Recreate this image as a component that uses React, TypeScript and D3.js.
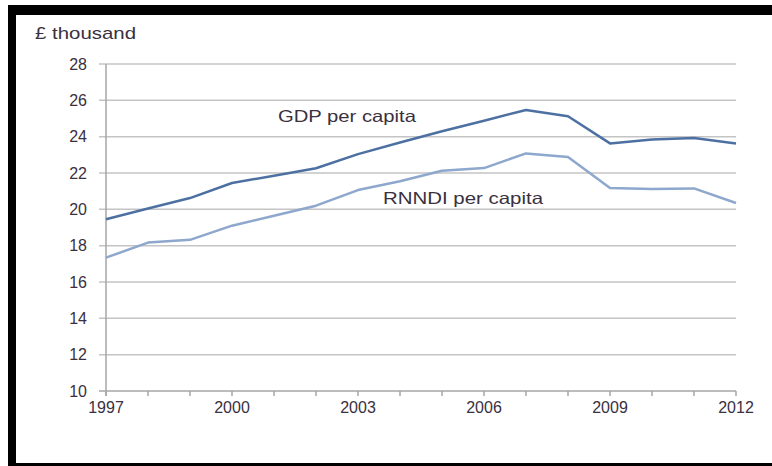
import React from "react";
import * as d3 from "d3";

const years = [1997, 1998, 1999, 2000, 2001, 2002, 2003, 2004, 2005, 2006, 2007, 2008, 2009, 2010, 2011, 2012];
const gdpPerCapita = [19.45, 20.05, 20.62, 21.45, 21.85, 22.26, 23.04, 23.68, 24.3, 24.88, 25.47, 25.12, 23.63, 23.85, 23.93, 23.63];
const rnndiPerCapita = [17.34, 18.17, 18.32, 19.1, 19.65, 20.2, 21.06, 21.55, 22.12, 22.27, 23.08, 22.88, 21.17, 21.12, 21.15, 20.35];
const yTicks = [10, 12, 14, 16, 18, 20, 22, 24, 26, 28];
const xLabelYears = [1997, 2000, 2003, 2006, 2009, 2012];
const unitLabel = "£ thousand";
const gdpLabel = "GDP per capita";
const rnndiLabel = "RNNDI per capita";

const W = 772;
const H = 466;
const FONT = "'Liberation Sans', Arial, sans-serif";

export default function App() {
  const x = d3.scaleLinear().domain([1997, 2012]).range([106, 736]);
  const y = d3.scaleLinear().domain([10, 28]).range([391, 64]);
  const line = d3
    .line<number>()
    .x((_, i) => x(years[i]))
    .y((d) => y(d));

  return (
    <svg
      width={W}
      height={H}
      style={{ position: "absolute", left: 0, top: 0, display: "block", background: "#fff" }}
    >
      {/* frame */}
      <rect x={0} y={0} width={W} height={H} fill="#fff" />
      <rect x={8} y={5} width={W - 8} height={10} fill="#000" />
      <rect x={8} y={5} width={8} height={H - 5} fill="#000" />
      <rect x={8} y={463} width={W - 8} height={3} fill="#000" />

      {/* unit label */}
      <text
        x={35}
        y={39}
        fontFamily={FONT}
        fontSize={17}
        fill="#3a3040"
        textLength={101}
        lengthAdjust="spacingAndGlyphs"
      >
        {unitLabel}
      </text>

      {/* gridlines */}
      {yTicks.map((t) => (
        <line
          key={"g" + t}
          x1={99}
          x2={736}
          y1={y(t)}
          y2={y(t)}
          stroke={t === 10 ? "#a6a6a6" : "#c4c4c4"}
          strokeWidth={1.5}
        />
      ))}
      {/* y axis */}
      <line x1={106} x2={106} y1={y(28)} y2={y(10) + 5} stroke="#a6a6a6" strokeWidth={1.5} />
      {/* x ticks */}
      {years.map((yr) => (
        <line key={"xt" + yr} x1={x(yr)} x2={x(yr)} y1={y(10)} y2={y(10) + 5} stroke="#a6a6a6" strokeWidth={1.5} />
      ))}

      {/* y tick labels */}
      {yTicks.map((t) => (
        <text
          key={"yl" + t}
          x={87}
          y={y(t) + 5.5}
          textAnchor="end"
          fontFamily={FONT}
          fontSize={16}
          fill="#3a3040"
        >
          {t}
        </text>
      ))}
      {/* x tick labels */}
      {xLabelYears.map((yr) => (
        <text
          key={"xl" + yr}
          x={x(yr)}
          y={413}
          textAnchor="middle"
          fontFamily={FONT}
          fontSize={16}
          fill="#3a3040"
        >
          {yr}
        </text>
      ))}

      {/* series */}
      <path d={line(rnndiPerCapita) || ""} fill="none" stroke="#8ea7cd" strokeWidth={2.5} strokeLinejoin="round" />
      <path d={line(gdpPerCapita) || ""} fill="none" stroke="#4d70a3" strokeWidth={2.5} strokeLinejoin="round" />

      {/* series labels */}
      <text
        x={278}
        y={122}
        fontFamily={FONT}
        fontSize={16.5}
        fill="#3a3040"
        textLength={138}
        lengthAdjust="spacingAndGlyphs"
      >
        {gdpLabel}
      </text>
      <text
        x={383}
        y={204}
        fontFamily={FONT}
        fontSize={16.5}
        fill="#3a3040"
        textLength={160}
        lengthAdjust="spacingAndGlyphs"
      >
        {rnndiLabel}
      </text>
    </svg>
  );
}
